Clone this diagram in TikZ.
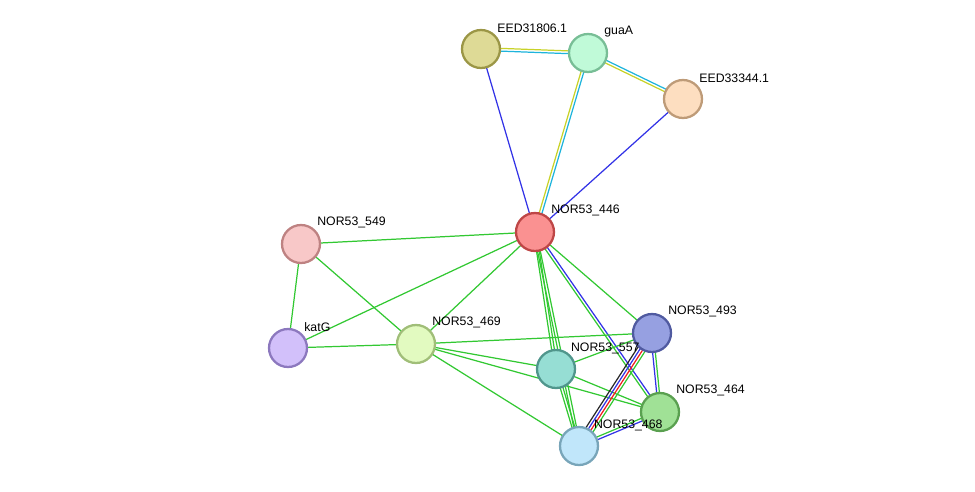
\documentclass[tikz,border=0pt]{standalone}
\usepackage{fontspec}
\setmainfont{Liberation Sans}
\usetikzlibrary{calc,backgrounds}
\definecolor{lgreen}{RGB}{50,200,50}
\definecolor{lblue}{RGB}{50,50,230}
\definecolor{lcyan}{RGB}{30,180,220}
\definecolor{lyellow}{RGB}{200,210,40}
\definecolor{lred}{RGB}{240,30,30}
\definecolor{lblack}{RGB}{40,40,40}
% node fills and rims
\definecolor{fA}{RGB}{222,218,150}\definecolor{dA}{RGB}{155,150,70}
\definecolor{fB}{RGB}{192,250,216}\definecolor{dB}{RGB}{120,190,150}
\definecolor{fC}{RGB}{253,222,192}\definecolor{dC}{RGB}{190,155,120}
\definecolor{fD}{RGB}{250,145,145}\definecolor{dD}{RGB}{190,70,70}
\definecolor{fE}{RGB}{248,200,200}\definecolor{dE}{RGB}{190,130,130}
\definecolor{fF}{RGB}{210,192,250}\definecolor{dF}{RGB}{140,120,190}
\definecolor{fG}{RGB}{226,250,192}\definecolor{dG}{RGB}{160,190,120}
\definecolor{fH}{RGB}{150,222,212}\definecolor{dH}{RGB}{80,150,140}
\definecolor{fI}{RGB}{150,160,225}\definecolor{dI}{RGB}{80,90,160}
\definecolor{fJ}{RGB}{160,225,150}\definecolor{dJ}{RGB}{90,160,80}
\definecolor{fK}{RGB}{192,230,250}\definecolor{dK}{RGB}{120,165,185}
\tikzset{
  prot/.style = {circle, minimum size=0.76cm, inner sep=0pt,
                 line width=1.3pt, fill=f#1, draw=d#1},
  lbl/.style = {anchor=south west, inner sep=1pt, font=\fontsize{7}{8}\selectfont},
  link/.style = {line width=0.7pt}
}
\newcommand\plink[3]{%
  \foreach \c [count=\i] in {#3} {\xdef\nlinks{\i}}
  \foreach \c [count=\i] in {#3} {
    \pgfmathsetmacro\o{(\i-(\nlinks+1)/2)*0.055}
    \draw[link,\c] ($(#1)!\o cm!90:(#2)$) -- ($(#2)!\o cm!-90:(#1)$);
  }}

\begin{document}
\begin{tikzpicture}[x=0.02cm,y=-0.02cm]
	\useasboundingbox (0,0) rectangle (975,491);
	
	% Proteins
	\node[prot=A, label={[lbl]45:EED31806.1}] (eed31806) at (481,49) {};
	\node[prot=B, label={[lbl]45:guaA}] (guaA) at (588,53) {};
	\node[prot=C, label={[lbl]45:EED33344.1}] (eed33344) at (683,99) {};
	\node[prot=D, label={[lbl]45:NOR53\_446}] (n446) at (535,232) {};
	\node[prot=E, label={[lbl]45:NOR53\_549}] (n549) at (301,244) {};
	\node[prot=F, label={[lbl]45:katG}] (katG) at (288,348) {};
	\node[prot=G, label={[lbl]45:NOR53\_469}] (n469) at (416,344) {};
	\node[prot=H] (n557) at (556,369) {};
	\node[prot=I, label={[lbl]45:NOR53\_493}] (n493) at (652,333) {};
	\node[prot=J, label={[lbl]45:NOR53\_464}] (n464) at (660,412) {};
	\node[prot=K] (n468) at (579,446) {};
	
	% Links
	\begin{pgfonlayer}{background}
	\plink{eed31806}{guaA}{lcyan,lyellow}
	\plink{guaA}{eed33344}{lyellow,lcyan}
	\plink{guaA}{n446}{lyellow,lcyan}
	\plink{eed31806}{n446}{lblue}
	\plink{eed33344}{n446}{lblue}
	\plink{n446}{n549}{lgreen}
	\plink{n446}{katG}{lgreen}
	\plink{n446}{n469}{lgreen}
	\plink{n446}{n557}{lgreen,lgreen}
	\plink{n446}{n468}{lgreen,lgreen}
	\plink{n446}{n493}{lgreen}
	\plink{n446}{n464}{lgreen,lblue}
	\plink{n549}{katG}{lgreen}
	\plink{n549}{n469}{lgreen}
	\plink{katG}{n469}{lgreen}
	\plink{n469}{n493}{lgreen}
	\plink{n469}{n557}{lgreen}
	\plink{n469}{n464}{lgreen}
	\plink{n469}{n468}{lgreen}
	\plink{n557}{n493}{lgreen}
	\plink{n557}{n464}{lgreen}
	\plink{n557}{n468}{lgreen,lgreen}
	\plink{n493}{n468}{lblack,lblue,lred,lgreen}
	\plink{n493}{n464}{lblue,lgreen}
	\plink{n464}{n468}{lgreen,lblue}
	\end{pgfonlayer}
	
	% Labels drawn over links
	\node[lbl] at ($(n557)+(13,-13)$) {NOR53\_557};
	\node[lbl] at ($(n468)+(13,-13)$) {NOR53\_468};
\end{tikzpicture}
\end{document}
